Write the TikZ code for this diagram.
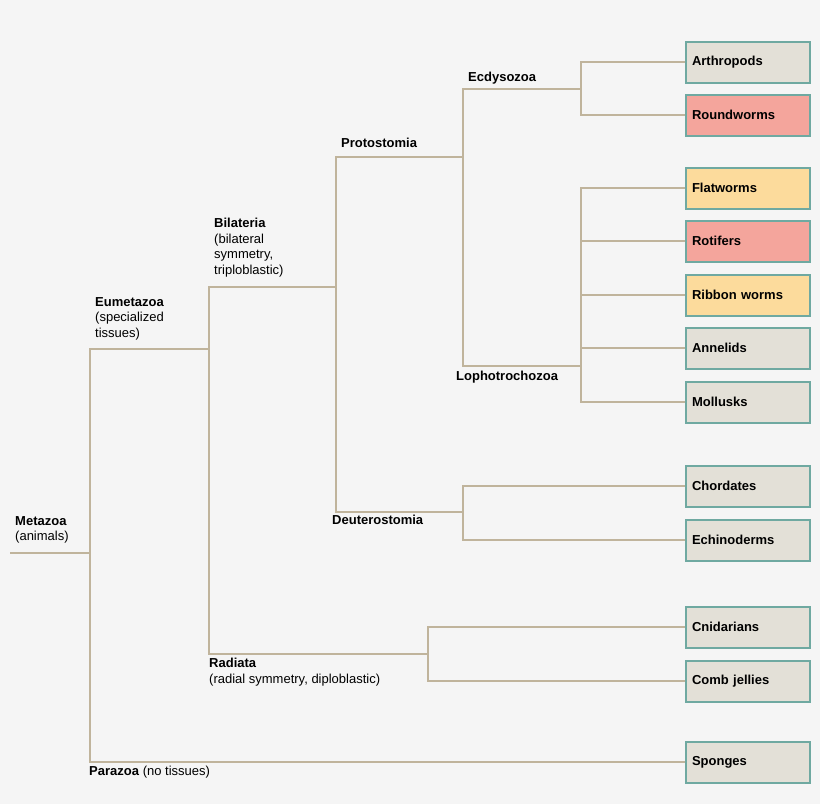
\documentclass[tikz,border=0pt]{standalone}
\usepackage{fontspec}
\setmainfont{Liberation Sans}
\definecolor{branch}{HTML}{C0B49C}
\definecolor{frame}{HTML}{6FA9A1}
\definecolor{grayfill}{HTML}{E3E0D7}
\definecolor{redfill}{HTML}{F4A59C}
\definecolor{yellowfill}{HTML}{FCDB9C}
\definecolor{bg}{HTML}{F5F5F5}
\begin{document}
\begin{tikzpicture}[x=1pt,y=-1pt,
  taxon/.style={draw=frame,line width=2pt,minimum width=124pt,minimum height=41pt,
    anchor=west,inner sep=5pt,text width=112pt,align=left,font=\bfseries\fontsize{13}{15}\selectfont},
  gray/.style={taxon,fill=grayfill},
  red/.style={taxon,fill=redfill},
  yellow/.style={taxon,fill=yellowfill},
  lab/.style={anchor=north west,align=left,inner sep=0pt,font=\fontsize{13}{15.5}\selectfont},
  br/.style={draw=branch,line width=2.3pt}]

\fill[bg] (0,0) rectangle (820,804);
\useasboundingbox (0,0) rectangle (820,804);

% leaves
\node[gray]   (arth) at (685,62)  {Arthropods};
\node[red]    (round) at (685,115) {Roundworms};
\node[yellow] (flat) at (685,188) {Flatworms};
\node[red]    (roti) at (685,241) {Rotifers};
\node[yellow] (ribb) at (685,295) {Ribbon worms};
\node[gray]   (anne) at (685,348) {Annelids};
\node[gray]   (moll) at (685,402) {Mollusks};
\node[gray]   (chor) at (685,486) {Chordates};
\node[gray]   (echi) at (685,540) {Echinoderms};
\node[gray]   (cnid) at (685,627) {Cnidarians};
\node[gray]   (comb) at (685,681) {Comb jellies};
\node[gray]   (spon) at (685,762) {Sponges};

% branch points
\coordinate (root) at (10,553);
\coordinate (meta) at (90,553);
\coordinate (eume) at (209,349);
\coordinate (bila) at (336,287);
\coordinate (radi) at (428,654);
\coordinate (prot) at (463,157);
\coordinate (deut) at (463,512);
\coordinate (ecdy) at (581,89);
\coordinate (loph) at (581,366);

\draw[br] (root) -- (meta);
\draw[br] (meta) |- (eume) (meta) |- (spon.west);
\draw[br] (eume) |- (bila) (eume) |- (radi);
\draw[br] (bila) |- (prot) (bila) |- (deut);
\draw[br] (prot) |- (ecdy) (prot) |- (loph);
\draw[br] (ecdy) |- (arth.west) (ecdy) |- (round.west);
\foreach \t in {flat,roti,ribb,anne,moll}
  \draw[br] (loph) |- (\t.west);
\draw[br] (deut) |- (chor.west) (deut) |- (echi.west);
\draw[br] (radi) |- (cnid.west) (radi) |- (comb.west);

% clade labels
\node[lab] (lmeta) at (15,516) {\textbf{Metazoa}\\(animals)};
\node[lab] (leume) at (95,297) {\textbf{Eumetazoa}\\(specialized\\tissues)};
\node[lab] (lbila) at (214,218) {\textbf{Bilateria}\\(bilateral\\symmetry,\\triploblastic)};
\node[lab] (lprot) at (341,138) {\textbf{Protostomia}};
\node[lab] (lecdy) at (468,72) {\textbf{Ecdysozoa}};
\node[lab] (lloph) at (456,371) {\textbf{Lophotrochozoa}};
\node[lab] (ldeut) at (332,515) {\textbf{Deuterostomia}};
\node[lab] (lradi) at (209,658) {\textbf{Radiata}\\(radial symmetry, diploblastic)};
\node[lab] (lpara) at (89,766) {\textbf{Parazoa} (no tissues)};
\end{tikzpicture}
\end{document}
